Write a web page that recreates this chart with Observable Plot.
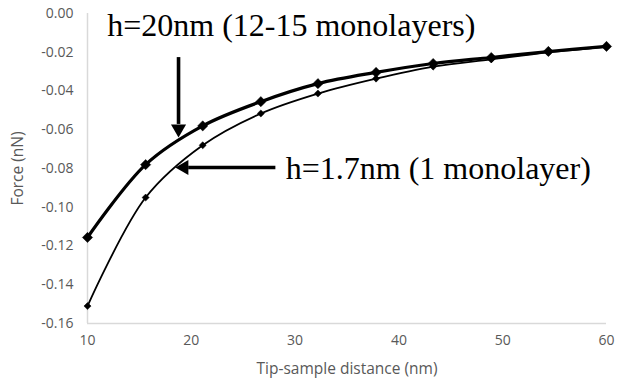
<!DOCTYPE html>
<html>
<head>
<meta charset="utf-8">
<script src="https://cdn.jsdelivr.net/npm/d3@7"></script>
<script src="https://cdn.jsdelivr.net/npm/@observablehq/plot@0.6"></script>
<style>
  html, body { margin: 0; padding: 0; background: #fff; }
  #chart { width: 622px; height: 385px; }
</style>
</head>
<body>
<div id="chart"></div>
<script>
// Tip-sample distance (nm)
const distance = [10, 15.6, 21.1, 26.7, 32.2, 37.8, 43.3, 48.9, 54.4, 60];
// Force (nN), h = 20 nm (12-15 monolayers)
const forceThick = [-0.1156, -0.078, -0.058, -0.0455, -0.0362, -0.0304, -0.0258, -0.0227, -0.0196, -0.017];
// Force (nN), h = 1.7 nm (1 monolayer)
const forceThin = [-0.151, -0.095, -0.068, -0.0516, -0.0413, -0.0336, -0.0274, -0.0237, -0.0201, -0.0172];

const xTicks = [10, 20, 30, 40, 50, 60];
const yTicks = [0, -0.02, -0.04, -0.06, -0.08, -0.10, -0.12, -0.14, -0.16];

const labels = ["h=20nm (12-15 monolayers)", "h=1.7nm (1 monolayer)"];
const labelX = [11.9, 29.1];
const labelY = [-0.0115, -0.0856];
// arrow shafts: [x1, y1] -> [x2, y2], head tip at [tipX, tipY]
const arrowX1 = [18.77, 28.1];
const arrowY1 = [-0.0225, -0.0795];
const arrowX2 = [18.77, 19.7];
const arrowY2 = [-0.057, -0.0795];
const tipX = [18.77, 19.3];
const tipY = [-0.0595, -0.0795];
const tipRotate = [180, 270];

const thick = distance.map((d, i) => ({x: d, y: forceThick[i]}));
const thin = distance.map((d, i) => ({x: d, y: forceThin[i]}));
const notes = labels.map((t, i) => ({t, x: labelX[i], y: labelY[i]}));
const arrows = arrowX1.map((d, i) => ({x1: d, y1: arrowY1[i], x2: arrowX2[i], y2: arrowY2[i],
  tx: tipX[i], ty: tipY[i], rot: tipRotate[i]}));

const axisFont = "'Open Sans', sans-serif";
const chart = Plot.plot({
  width: 622,
  height: 385,
  marginLeft: 87,
  marginRight: 16,
  marginTop: 13,
  marginBottom: 62,
  style: {fontFamily: axisFont, fontSize: "14px", color: "#595959", background: "#fff"},
  x: {domain: [10, 60], ticks: xTicks, tickSize: 0, tickPadding: 12, label: null},
  y: {domain: [-0.16, 0], ticks: yTicks, tickSize: 0, tickPadding: 14, label: null,
      tickFormat: d => d.toFixed(2)},
  marks: [
    Plot.ruleX([10], {stroke: "#d9d9d9", strokeWidth: 1.5}),
    Plot.ruleY([-0.16], {stroke: "#d9d9d9", strokeWidth: 1.5}),
    Plot.line(thin, {x: "x", y: "y", curve: "catmull-rom", stroke: "#000", strokeWidth: 1.8}),
    Plot.dot(thin, {x: "x", y: "y", symbol: "diamond2", r: 3.2, fill: "#000", stroke: "#000", strokeWidth: 0.5}),
    Plot.line(thick, {x: "x", y: "y", curve: "catmull-rom", stroke: "#000", strokeWidth: 3.2}),
    Plot.dot(thick, {x: "x", y: "y", symbol: "diamond2", r: 4.6, fill: "#000", stroke: "#000", strokeWidth: 0.5}),
    Plot.link(arrows, {x1: "x1", y1: "y1", x2: "x2", y2: "y2", stroke: "#000", strokeWidth: 3.6}),
    Plot.dot(arrows, {x: "tx", y: "ty", symbol: "triangle", r: 5.6, rotate: "rot", fill: "#000", stroke: "none"}),
    Plot.text(notes, {x: "x", y: "y", text: "t", textAnchor: "start", lineAnchor: "bottom",
      fontFamily: "'Liberation Serif', 'Times New Roman', serif", fontSize: 32, fill: "#000"}),
    Plot.axisY({ticks: yTicks, tickSize: 0, tickPadding: 14, tickFormat: d => d.toFixed(2),
      label: "Force (nN)", labelAnchor: "center", labelArrow: "none", labelOffset: 76, fontSize: 14}),
    Plot.axisX({ticks: xTicks, tickSize: 0, tickPadding: 12,
      label: "Tip-sample distance (nm)", labelAnchor: "center", labelArrow: "none", labelOffset: 50, fontSize: 14})
  ]
});
// enlarge axis titles
chart.querySelectorAll("g[aria-label='y-axis label'] text, g[aria-label='x-axis label'] text")
  .forEach(t => t.setAttribute("font-size", "15.5"));
document.getElementById("chart").appendChild(chart);
</script>
</body>
</html>
